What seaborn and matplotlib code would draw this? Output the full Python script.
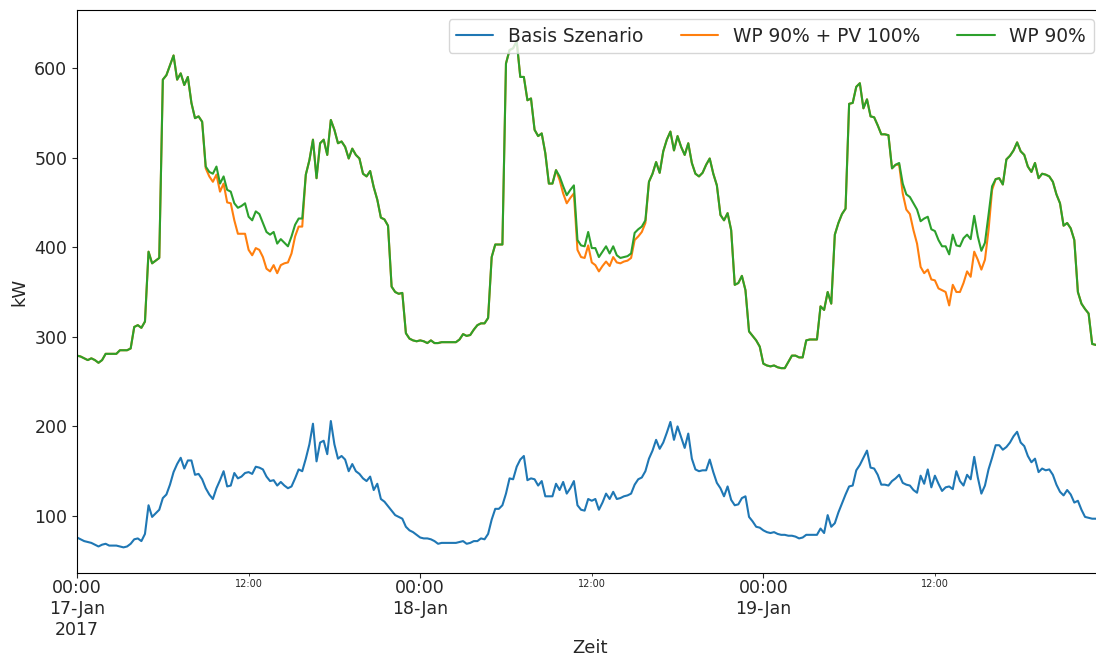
import numpy as np
import pandas as pd
import matplotlib
matplotlib.use("Agg")
import matplotlib.pyplot as plt
import matplotlib.dates as mdates
import seaborn as sns

# 15-min Lastprofile, 17.-19. Januar 2017 (kW)
start = "2017-01-17 00:00"
szenarien = ["Basis Szenario", "WP 90% + PV 100%", "WP 90%"]
farben = ["#1f77b4", "#ff7f0e", "#2ca02c"]

basis = [
    76, 74, 72, 71, 70, 68, 66, 68, 69, 67, 67, 67, 66, 65, 66, 69, 74, 75, 72, 80, 112, 99, 103, 107,
    120, 124, 135, 149, 158, 165, 153, 162, 162, 146, 147, 141, 131, 124, 119, 131, 140, 150, 133, 134, 148, 142, 144, 148,
    149, 147, 155, 154, 152, 144, 139, 140, 134, 138, 134, 131, 133, 142, 152, 150, 164, 180, 203, 161, 182, 184, 169, 206,
    180, 164, 167, 163, 150, 158, 150, 147, 142, 139, 144, 129, 136, 119, 116, 111, 106, 101, 99, 97, 88, 84, 82, 79,
    76, 75, 75, 74, 72, 69, 70, 70, 70, 70, 70, 71, 72, 69, 70, 72, 72, 75, 74, 80, 96, 108, 108, 112,
    125, 142, 141, 155, 163, 167, 140, 142, 141, 134, 139, 122, 122, 122, 136, 129, 138, 125, 131, 139, 112, 107, 106, 119,
    117, 119, 107, 115, 125, 119, 127, 119, 120, 122, 123, 125, 135, 141, 143, 150, 164, 173, 185, 175, 182, 193, 205, 185,
    200, 188, 176, 192, 164, 152, 150, 151, 151, 163, 149, 137, 131, 122, 133, 118, 112, 113, 120, 122, 99, 94, 88, 87,
    84, 82, 81, 82, 80, 79, 79, 78, 78, 77, 75, 76, 79, 79, 79, 79, 86, 81, 101, 88, 92, 104, 114, 124,
    133, 134, 151, 157, 165, 173, 154, 153, 146, 135, 135, 134, 139, 142, 146, 137, 135, 134, 129, 126, 145, 136, 152, 132,
    145, 136, 128, 132, 133, 130, 150, 139, 134, 146, 141, 166, 143, 125, 134, 152, 165, 179, 179, 174, 177, 182, 189, 194,
    182, 178, 167, 160, 164, 149, 153, 151, 152, 146, 135, 127, 123, 129, 124, 115, 117, 107, 99, 98, 97, 97, 96, 96,
]

wp90 = [
    279, 278, 276, 274, 276, 274, 271, 274, 281, 281, 281, 281, 285, 285, 285, 287, 311, 313, 310, 317, 395, 382, 385, 388,
    587, 592, 603, 614, 587, 594, 581, 590, 561, 544, 546, 540, 490, 484, 482, 490, 471, 479, 464, 462, 449, 444, 446, 449,
    434, 430, 440, 437, 427, 417, 414, 417, 404, 409, 405, 401, 412, 425, 432, 432, 481, 497, 520, 477, 516, 520, 503, 542,
    531, 516, 518, 512, 499, 510, 503, 499, 482, 479, 485, 467, 453, 433, 431, 424, 356, 350, 348, 349, 304, 298, 296, 295,
    296, 295, 293, 296, 293, 293, 294, 294, 294, 294, 294, 297, 303, 301, 302, 308, 313, 315, 315, 321, 389, 403, 403, 403,
    605, 620, 622, 630, 590, 590, 564, 566, 531, 524, 527, 505, 471, 471, 486, 479, 468, 458, 464, 469, 408, 402, 401, 417,
    399, 399, 389, 395, 401, 393, 401, 391, 388, 389, 390, 393, 416, 420, 423, 430, 473, 482, 495, 483, 507, 520, 529, 508,
    524, 512, 503, 516, 494, 482, 479, 483, 492, 499, 482, 469, 436, 430, 438, 419, 358, 360, 368, 352, 306, 301, 296, 289,
    270, 268, 267, 268, 266, 265, 265, 272, 279, 279, 277, 277, 296, 297, 297, 297, 334, 330, 350, 337, 414, 427, 437, 443,
    560, 561, 579, 583, 555, 565, 546, 545, 536, 526, 526, 525, 488, 492, 494, 471, 459, 456, 449, 442, 429, 432, 434, 420,
    418, 408, 401, 401, 392, 414, 402, 401, 410, 414, 409, 435, 412, 396, 405, 436, 468, 476, 477, 470, 498, 502, 508, 517,
    507, 503, 490, 484, 494, 477, 482, 481, 479, 473, 459, 449, 424, 427, 421, 408, 350, 337, 331, 326, 292, 291, 290, 290,
]

wp90_pv100 = [
    279, 278, 276, 274, 276, 274, 271, 274, 281, 281, 281, 281, 285, 285, 285, 287, 311, 313, 310, 317, 395, 382, 385, 388,
    587, 592, 603, 614, 587, 594, 581, 590, 561, 544, 546, 540, 488, 479, 473, 481, 462, 471, 450, 449, 430, 415, 415, 415,
    397, 391, 399, 397, 389, 376, 373, 380, 371, 380, 382, 383, 393, 412, 423, 423, 481, 497, 520, 477, 516, 520, 503, 542,
    531, 516, 518, 512, 499, 510, 503, 499, 482, 479, 485, 467, 453, 433, 431, 424, 356, 350, 348, 349, 304, 298, 296, 295,
    296, 295, 293, 296, 293, 293, 294, 294, 294, 294, 294, 297, 303, 301, 302, 308, 313, 315, 315, 321, 389, 403, 403, 403,
    605, 620, 622, 630, 590, 590, 564, 566, 531, 524, 527, 505, 471, 471, 486, 475, 460, 449, 455, 460, 397, 389, 388, 402,
    383, 380, 373, 379, 384, 379, 389, 383, 382, 384, 385, 388, 408, 412, 417, 427, 473, 482, 495, 483, 507, 520, 529, 508,
    524, 512, 503, 516, 494, 482, 479, 483, 492, 499, 482, 469, 436, 430, 438, 419, 358, 360, 368, 352, 306, 301, 296, 289,
    270, 268, 267, 268, 266, 265, 265, 272, 279, 279, 277, 277, 296, 297, 297, 297, 334, 330, 350, 337, 414, 427, 437, 443,
    560, 561, 579, 583, 555, 565, 546, 545, 536, 526, 526, 525, 488, 492, 492, 460, 442, 437, 419, 404, 378, 371, 375, 364,
    363, 354, 352, 350, 335, 358, 350, 350, 360, 373, 367, 395, 386, 375, 386, 419, 464, 476, 477, 470, 498, 502, 508, 517,
    507, 503, 490, 484, 494, 477, 482, 481, 479, 473, 459, 449, 424, 427, 421, 408, 350, 337, 331, 326, 292, 291, 290, 290,
]

zeit = pd.date_range(start, periods=len(basis), freq="15min")
df = pd.DataFrame({"Zeit": zeit,
                   szenarien[0]: basis,
                   szenarien[1]: wp90_pv100,
                   szenarien[2]: wp90})
long_df = df.melt(id_vars="Zeit", var_name="Szenario", value_name="kW")

sns.set_style("white")
plt.rcParams["font.family"] = ["DejaVu Sans"]

fig = plt.figure(figsize=(10.96, 6.59), dpi=100)
ax = fig.add_axes([0.0703, 0.1305, 0.936, 0.8543])

sns.lineplot(data=long_df, x="Zeit", y="kW", hue="Szenario", hue_order=szenarien,
             palette=farben, linewidth=1.5, ax=ax)

ax.set_xlim(zeit[0], zeit[-1])
ax.set_ylim(36.4, 664.7)

# x-Achse im pandas-Stil
def major_fmt(x, pos):
    d = mdates.num2date(x)
    s = d.strftime("%H:%M\n%d-%b")
    if pos == 0:
        s += d.strftime("\n%Y")
    return s

ax.xaxis.set_major_locator(mdates.DayLocator())
ax.xaxis.set_major_formatter(plt.FuncFormatter(major_fmt))
ax.xaxis.set_minor_locator(mdates.HourLocator(byhour=12))
ax.xaxis.set_minor_formatter(mdates.DateFormatter("%H:%M"))
ax.tick_params(axis="x", which="major", labelsize=12.5, length=3.5, pad=1, bottom=True)
ax.tick_params(axis="x", which="minor", labelsize=7, length=2, pad=2.5, bottom=True)
ax.tick_params(axis="y", labelsize=12.5, length=3.5, left=True)

ax.set_xlabel("Zeit", fontsize=13, labelpad=0)
ax.set_ylabel("kW", fontsize=13)

for sp in ax.spines.values():
    sp.set_color("black")
    sp.set_linewidth(0.8)

handles, labels = ax.get_legend_handles_labels()
ax.legend(handles, labels, loc="upper right", ncol=3, fontsize=13.4, frameon=True)

fig.savefig("out.png", dpi=100)
